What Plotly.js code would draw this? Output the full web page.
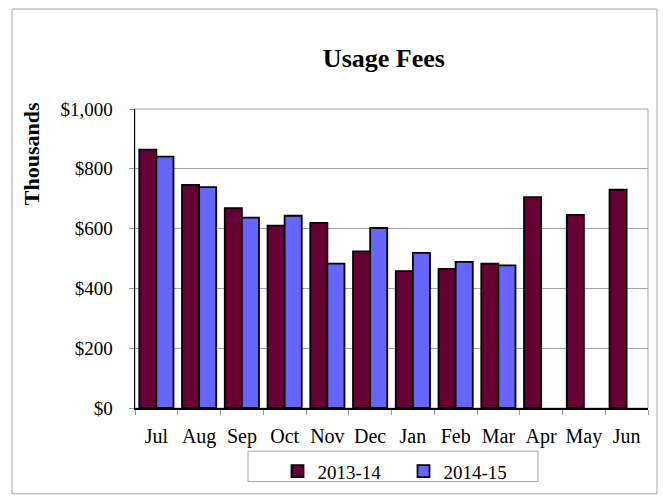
<!DOCTYPE html>
<html>
<head>
<meta charset="utf-8">
<script src="https://cdn.plot.ly/plotly-3.0.1.min.js"></script>
<style>
html,body{margin:0;padding:0;background:#fff;}
#chart{width:663px;height:502px;}
</style>
</head>
<body>
<div id="chart"></div>
<script>
const months = ["Jul","Aug","Sep","Oct","Nov","Dec","Jan","Feb","Mar","Apr","May","Jun"];
const fy2013_14 = [864, 746, 668, 610, 619, 524, 458, 465, 483, 705, 646, 730];
const fy2014_15 = [841, 739, 637, 643, 483, 602, 519, 489, 477, null, null, null];
const seriesNames = ["2013-14", "2014-15"];
const yTickVals = [0, 200, 400, 600, 800, 1000];
const yTickText = ["$0", "$200", "$400", "$600", "$800", "$1,000"];

const FONT = "'Liberation Serif', 'Times New Roman', serif";

const traces = [
  {type:"bar", name:seriesNames[0], x:months, y:fy2013_14,
   marker:{color:"#660033", line:{color:"#000000", width:1.8}}, hoverinfo:"x+y"},
  {type:"bar", name:seriesNames[1], x:months, y:fy2014_15,
   marker:{color:"#6666FF", line:{color:"#000000", width:1.8}}, hoverinfo:"x+y"}
];

const layout = {
  width:663, height:502,
  margin:{l:135, r:15, t:109, b:88},
  paper_bgcolor:"#ffffff", plot_bgcolor:"#ffffff",
  font:{family:FONT, color:"#000000", size:19},
  title:{text:"<b>Usage Fees</b>", font:{family:FONT, size:26, color:"#000"},
         xref:"container", x:0.579, xanchor:"center", yref:"container", y:0.885, yanchor:"middle"},
  barmode:"group", bargap:0.2, bargroupgap:0,
  showlegend:true,
  legend:{orientation:"h", x:0.5234, xanchor:"center", y:-0.148, yanchor:"top",
          bgcolor:"rgba(0,0,0,0)", borderwidth:0, font:{family:FONT, size:19},
          entrywidth:81, entrywidthmode:"pixels", traceorder:"normal"},
  xaxis:{type:"category", tickson:"boundaries", ticks:"outside", ticklen:5, tickcolor:"#999",
         tickangle:0, ticklabelstandoff:9, showline:true, linecolor:"#000", linewidth:1.5, showgrid:false,
         tickfont:{family:FONT, size:20}, fixedrange:true},
  yaxis:{range:[0,1000], tickvals:yTickVals, ticktext:yTickText, ticks:"outside", ticklen:5,
         tickcolor:"#999", ticklabelstandoff:12,
         showline:true, linecolor:"#000", linewidth:1.5, showgrid:true, gridcolor:"#a6a6a6", gridwidth:1,
         zeroline:false, tickfont:{family:FONT, size:19}, fixedrange:true},
  annotations:[
    {text:"<b>Thousands</b>", xref:"paper", yref:"paper", x:-0.2027, y:0.849,
     xanchor:"center", yanchor:"middle", textangle:-90, showarrow:false,
     font:{family:FONT, size:22, color:"#000"}}
  ],
  shapes:[
    {type:"rect", xref:"paper", yref:"paper", x0:-0.2398, x1:1.0175, y0:-0.287, y1:1.3344,
     line:{color:"#a6a6a6", width:1}, fillcolor:"rgba(0,0,0,0)", layer:"below"},
    {type:"rect", xref:"paper", yref:"paper", x0:0, x1:1, y0:0, y1:1,
     line:{color:"#a6a6a6", width:1}, fillcolor:"rgba(0,0,0,0)", layer:"below"},
    {type:"rect", xref:"paper", yref:"paper", x0:(248-135)/513, x1:(538-135)/513,
     y0:(414-489)/305, y1:(414-458)/305,
     line:{color:"#a6a6a6", width:1}, fillcolor:"rgba(0,0,0,0)", layer:"below"}
  ]
};

Plotly.newPlot("chart", traces, layout, {displayModeBar:false, staticPlot:true});
</script>
</body>
</html>
